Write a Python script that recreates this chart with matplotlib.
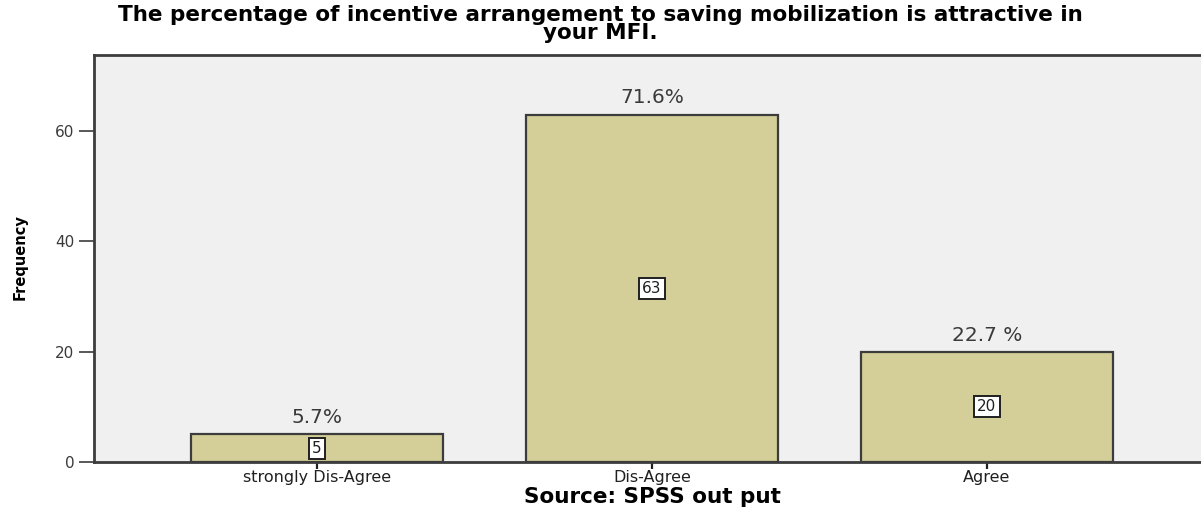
import matplotlib
matplotlib.use("Agg")
import matplotlib.pyplot as plt

# Survey responses: frequency and share of respondents
categories = ["strongly Dis-Agree", "Dis-Agree", "Agree"]
frequencies = [5, 63, 20]
percent_labels = ["5.7%", "71.6%", "22.7 %"]
y_ticks = [0, 20, 40, 60]

title_lines = ["The percentage of incentive arrangement to saving mobilization is attractive in",
               "your MFI."]
y_label = "Frequency"
x_label = "Source: SPSS out put"

bar_color = "#d4cf98"
edge_color = "#3c3c3c"
panel_color = "#f0f0f0"
text_grey = "#3a3a3a"

fig = plt.figure(figsize=(12.01, 5.08), dpi=100)
ax = fig.add_axes([94 / 1201, 46 / 508, (1210 - 94) / 1201, (462 - 55) / 508])
ax.set_facecolor(panel_color)

x = list(range(len(categories)))
bars = ax.bar(x, frequencies, width=0.75, color=bar_color,
              edgecolor=edge_color, linewidth=1.6, zorder=2)

ax.set_xlim(-0.666, 2.666)
ax.set_ylim(0, 73.8)

# Percent labels above each bar, count boxes in the middle
for xi, f, pl in zip(x, frequencies, percent_labels):
    ax.text(xi, f + 1.3, pl, ha="center", va="bottom",
            fontsize=14.5, color=text_grey, family="DejaVu Sans")
    ax.text(xi, f / 2, str(f), ha="center", va="center",
            fontsize=11, color="#202020", family="DejaVu Sans",
            bbox=dict(boxstyle="square,pad=0.2", facecolor="white",
                      edgecolor="#202020", linewidth=1.4), zorder=3)

ax.set_yticks(y_ticks)
ax.set_yticklabels([str(t) for t in y_ticks], fontsize=11,
                   color=text_grey, family="DejaVu Sans")
ax.set_xticks(x)
ax.set_xticklabels(categories, fontsize=11.5, color="#202020",
                   family="DejaVu Sans")
ax.tick_params(axis="y", length=11, width=1.2, color=edge_color, pad=3)
ax.tick_params(axis="x", length=5, width=1.6, color="#202020", pad=1)

for side in ["left", "top", "bottom"]:
    ax.spines[side].set_color(edge_color)
    ax.spines[side].set_linewidth(2.0)
ax.spines["right"].set_visible(False)

for line, ypix in zip(title_lines, [15, 33]):
    fig.text(0.5, 1 - ypix / 508, line, ha="center", va="center",
             fontsize=15.5, fontweight="bold", family="DejaVu Sans",
             color="black")
fig.text(20 / 1201, 1 - 257 / 508, y_label, rotation=90, ha="center",
         va="center", fontsize=10.5, fontweight="bold",
         family="DejaVu Sans", color="black")
fig.text(652 / 1201, 1 - 497 / 508, x_label, ha="center", va="center",
         fontsize=15.5, fontweight="bold", family="DejaVu Sans",
         color="black")

fig.savefig("out.png", dpi=100, facecolor="white")
